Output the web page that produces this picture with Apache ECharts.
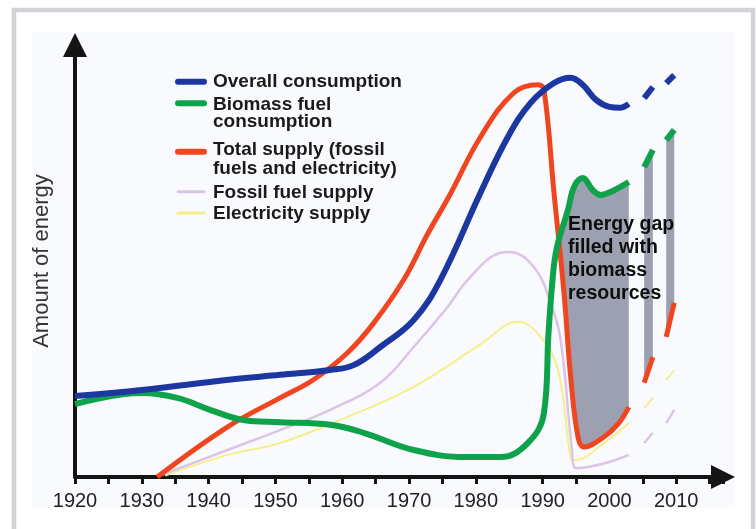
<!DOCTYPE html>
<html>
<head>
<meta charset="utf-8">
<script src="https://cdn.jsdelivr.net/npm/echarts@6/dist/echarts.min.js"></script>
<style>
html,body{margin:0;padding:0;background:#fff;}
#chart{width:756px;height:529px;}
</style>
</head>
<body>
<div id="chart"></div>
<script>
// ---- data (arbitrary energy units, 0 = x-axis) ----
const tickLabels = ['1920','1930','1940','1950','1960','1970','1980','1990','2000','2010'];

const overallYears  = [1920, 1930, 1943, 1950.7, 1958.2, 1961.7, 1965.7, 1970.7, 1974.7, 1980.7, 1984.8, 1988.2, 1991.7, 1994.2, 1996, 1998, 2000, 2001.5, 2002.9, 2004, 2005.2, 2006.5, 2007.5, 2008.5, 2009.7];
const overallValues = [18.3, 19.7, 22.0, 23.1, 24.2, 25.3, 29.4, 35.5, 44.6, 64.3, 76.9, 84.6, 89.1, 90.3, 88.7, 85.3, 83.7, 83.5, 84.4, null, 85.7, 88.2, null, 89.1, 90.9];

const biomassYears  = [1920, 1930, 1935.3, 1940.2, 1945.2, 1950.7, 1958.2, 1963.2, 1970.7, 1978.5, 1983.7, 1987.8, 1990.2, 1990.9, 1991.7, 1992.3, 1993.8, 1994.7, 1996, 1997.5, 1998.7, 2000.5, 2002.9, 2004, 2005.2, 2006.5, 2007.5, 2008.5, 2009.7];
const biomassValues = [16.5, 19.0, 17.9, 15.2, 12.9, 12.4, 11.8, 10.0, 6.1, 4.5, 4.5, 7.7, 14.5, 33.0, 48.0, 53.0, 60.4, 65.6, 67.6, 64.9, 63.8, 64.7, 66.7, null, 70.1, 74.0, null, 76.2, 78.5];

const totalYears  = [1932.3, 1942.8, 1950.7, 1955.7, 1960.8, 1964.7, 1969.2, 1972.8, 1976, 1980.7, 1985.7, 1989.3, 1990.2, 1991.7, 1993.2, 1994.2, 1995.3, 1996.2, 1999.2, 2001.3, 2002.9, 2004, 2005.2, 2006.5, 2007.5, 2008.5, 2009.7];
const totalValues = [0, 11.3, 17.9, 22.0, 28.1, 34.8, 44.6, 55.0, 63.5, 76.9, 86.9, 88.7, 87.6, 64.3, 41.6, 22.6, 9.0, 6.8, 9.1, 12.0, 15.8, null, 21.3, 27.1, null, 31.7, 39.4];

const fossilYears  = [1933, 1942.8, 1950.7, 1958.2, 1965.7, 1970.7, 1975.8, 1978.8, 1983.7, 1985.2, 1988.7, 1991.2, 1992.7, 1994.4, 1995, 1997, 2000, 2002.9, 2004, 2005.2, 2006.5, 2007.5, 2008.5, 2009.7];
const fossilValues = [0.5, 6.1, 10.6, 15.2, 21.3, 29.4, 38.5, 44.6, 50.7, 50.9, 47.5, 39.4, 31.0, 6.0, 2.0, 2.3, 3.4, 5.0, null, 7.7, 10.0, null, 12.2, 15.2];

const electricYears  = [1933.5, 1942.8, 1950.7, 1960.8, 1970.7, 1980.7, 1986.3, 1989.7, 1992.3, 1994.2, 1994.8, 1999.2, 2002.9, 2004, 2005.2, 2006.5, 2007.5, 2008.5, 2009.7];
const electricValues = [0.3, 5.0, 7.7, 13.6, 20.4, 30.0, 35.1, 31.7, 24.2, 4.3, 3.8, 7.7, 12.2, null, 15.6, 17.9, null, 21.9, 24.2];

// energy gap (filled between biomass and total supply)
const gapRegions = [[1992.1, 2002.9], [2005.2, 2006.5], [2008.5, 2009.7]];
const gapCross = [1992.1, 54.5];

const seriesNames = ['Overall consumption', 'Biomass fuel consumption', 'Total supply (fossil fuels and electricity)', 'Fossil fuel supply', 'Electricity supply'];
const legendLabels = ['Overall consumption', 'Biomass fuel\nconsumption', 'Total supply (fossil\nfuels and electricity)', 'Fossil fuel supply', 'Electricity supply'];
const annotationText = 'Energy gap\nfilled with\nbiomass\nresources';

// ---- styling ----
const colors = ['#1c37a0', '#0ea24b', '#f0461f', '#dcc4e6', '#f5ef8a'];
const widths = [6, 6, 5, 2.5, 2];
const gapColor = '#9ca0b0';
const FONT = '"Liberation Sans", Arial, Helvetica, sans-serif';

function pairs(xs, vs) { return xs.map((x, i) => [x, vs[i]]); }

const chart = echarts.init(document.getElementById('chart'), null, {renderer: 'canvas'});

function lineSeries(idx, xs, vs, z) {
  return {
    name: seriesNames[idx], type: 'line', data: pairs(xs, vs),
    smooth: 0.4, symbol: 'none', connectNulls: false, z: z,
    lineStyle: {color: colors[idx], width: widths[idx], cap: 'butt'},
    itemStyle: {color: colors[idx]}, silent: true
  };
}

// legend graphics
const legendRowsIconY = [81.7, 103.3, 151.7, 191.7, 213];
const legendRowsTextTop = [72.5, 96.5, 140.5, 184, 205];
const legendLineHeights = [18, 17, 19, 18, 18];
const legendGraphics = [];
[0, 1, 2, 3, 4].forEach((idx, r) => {
  legendGraphics.push({
    type: 'line', z: 50, silent: true,
    shape: {x1: 178, y1: legendRowsIconY[r], x2: 204, y2: legendRowsIconY[r]},
    style: {stroke: colors[idx], lineWidth: idx >= 3 ? 3 : 6, lineCap: 'round'}
  });
  legendGraphics.push({
    type: 'text', z: 50, x: 213, y: legendRowsTextTop[r], silent: true,
    style: {text: legendLabels[idx], fill: '#1a1a1a', font: 'bold 19px ' + FONT, lineHeight: legendLineHeights[r], textVerticalAlign: 'top'}
  });
});

const option = {
  backgroundColor: '#ffffff',
  animation: false,
  grid: {left: 75, right: 33, top: 45, bottom: 52, containLabel: false},
  xAxis: {
    type: 'value', min: 1920, max: 2017, interval: 5,
    splitLine: {show: false},
    axisLine: {show: true, onZero: false, symbol: ['none', 'triangle'], symbolSize: [24, 24],
      lineStyle: {color: '#141414', width: 4}},
    axisTick: {show: true, length: 7, inside: false, lineStyle: {color: '#141414', width: 3}},
    axisLabel: {
      margin: 14, color: '#222', fontSize: 20, fontFamily: FONT,
      formatter: v => tickLabels.indexOf(String(v)) >= 0 ? String(v) : ''
    }
  },
  yAxis: {
    type: 'value', min: 0, max: 97.7,
    name: 'Amount of energy', nameLocation: 'middle', nameGap: 22,
    nameTextStyle: {color: '#333', fontSize: 22, fontFamily: FONT},
    splitLine: {show: false},
    axisLine: {show: true, onZero: false, symbol: ['none', 'triangle'], symbolSize: [24, 24],
      lineStyle: {color: '#141414', width: 4}},
    axisTick: {show: false},
    axisLabel: {show: false}
  },
  graphic: {
    elements: [
      {type: 'rect', z: -20, silent: true, shape: {x: 14, y: 10, width: 739, height: 540},
        style: {fill: '#ffffff', stroke: '#d2d3d6', lineWidth: 4.5}},
      {type: 'rect', z: -19, silent: true, shape: {x: 32, y: 32, width: 703, height: 476},
        style: {fill: '#f9fafd'}},
      {type: 'text', z: 60, x: 568, y: 213, silent: true,
        style: {text: annotationText, fill: '#0d0d0d', font: 'bold 19.5px ' + FONT, lineHeight: 23,
          textVerticalAlign: 'top', shadowBlur: 3, shadowColor: 'rgba(0,0,0,0.35)'}}
    ].concat(legendGraphics)
  },
  series: [
    {
      name: 'Energy gap', type: 'custom', z: 1, silent: true,
      data: gapRegions,
      encode: {x: [0, 1]},
      renderItem: function (params, api) {
        const s = api.value(0), e = api.value(1);
        const top = pairs(biomassYears, biomassValues).filter(p => p[1] != null && p[0] >= s && p[0] <= e);
        const bot = pairs(totalYears, totalValues).filter(p => p[1] != null && p[0] >= s && p[0] <= e).reverse();
        let pts = top.concat(bot);
        if (s === gapCross[0]) pts.unshift(gapCross);
        return {type: 'polygon', shape: {points: pts.map(p => api.coord(p))}, style: {fill: gapColor}};
      }
    },
    lineSeries(4, electricYears, electricValues, 3),
    lineSeries(3, fossilYears, fossilValues, 4),
    lineSeries(2, totalYears, totalValues, 5),
    lineSeries(1, biomassYears, biomassValues, 6),
    lineSeries(0, overallYears, overallValues, 7)
  ]
};
chart.setOption(option);
</script>
</body>
</html>
